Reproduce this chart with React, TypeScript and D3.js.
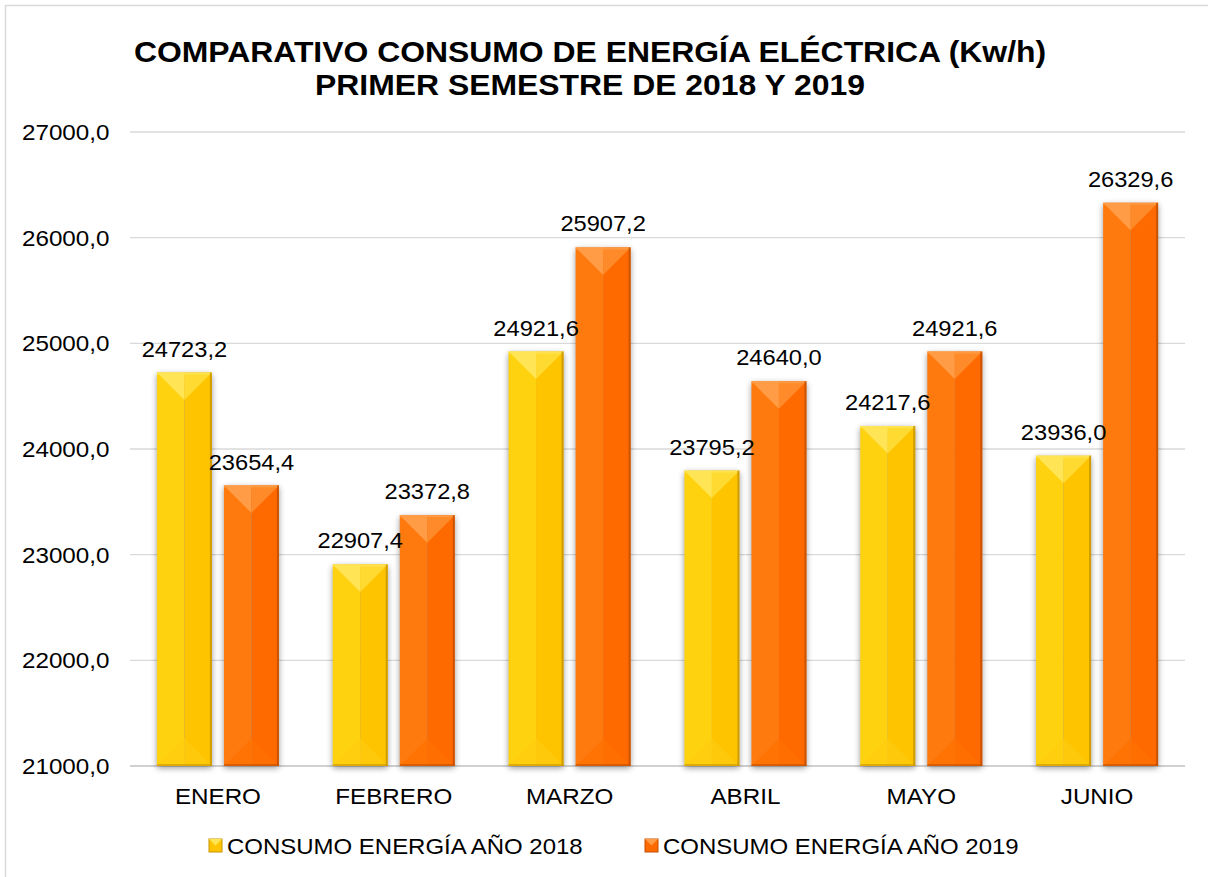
import React from "react";
import * as d3 from "d3";

const categories = ["ENERO", "FEBRERO", "MARZO", "ABRIL", "MAYO", "JUNIO"];
const series2018 = [24723.2, 22907.4, 24921.6, 23795.2, 24217.6, 23936.0];
const series2019 = [23654.4, 23372.8, 25907.2, 24640.0, 24921.6, 26329.6];
const seriesNames = ["CONSUMO ENERGÍA AÑO 2018", "CONSUMO ENERGÍA AÑO 2019"];
const yTicks = [21000, 22000, 23000, 24000, 25000, 26000, 27000];
const titleLines = [
  "COMPARATIVO CONSUMO DE ENERGÍA ELÉCTRICA (Kw/h)",
  "PRIMER SEMESTRE DE 2018 Y 2019",
];

const W = 1208;
const H = 877;
const FONT = "'Liberation Sans', Arial, sans-serif";
const SX = 1.1;

const palettes = [
  { left: "#FFD20F", right: "#FFC400", top: "#FFE455", topR: "#FFDA30", bottom: "#FFCC10", edge: "#C69400" },
  { left: "#FF7A0E", right: "#FF6A00", top: "#FF9C45", topR: "#FF8A2A", bottom: "#FF7000", edge: "#C04E00" },
];

const fmt = (v: number) => v.toFixed(1).replace(".", ",");

function Txt({ x, y, children, anchor = "middle", size = 21.5, weight = "normal" }: any) {
  return (
    <g transform={`translate(${x},${y}) scale(${SX},1)`}>
      <text x={0} y={0} textAnchor={anchor} fontSize={size} fontWeight={weight} fontFamily={FONT} fill="#000">
        {children}
      </text>
    </g>
  );
}

function Bar({ x, y, w, h, p }: any) {
  const xc = x + w / 2;
  const bev = Math.min(w / 2, h / 2);
  const yb = y + h;
  return (
    <g>
      <rect x={x} y={y} width={w} height={h} fill="#000" opacity={0.4} filter="url(#shadow)" />
      <rect x={x} y={y} width={w / 2} height={h} fill={p.left} />
      <rect x={xc} y={y} width={w / 2} height={h} fill={p.right} />
      <path d={`M${x},${y} L${xc},${y + bev} L${xc},${y} Z`} fill={p.top} />
      <path d={`M${xc},${y} L${xc},${y + bev} L${x + w},${y} Z`} fill={p.topR} />
      <path d={`M${x},${yb} L${xc},${yb - bev} L${x + w},${yb} Z`} fill={p.bottom} opacity={0.7} />
      <rect x={x} y={y} width={w} height={2} fill={p.top} opacity={0.8} />
      <rect x={x + w - 2} y={y} width={2} height={h} fill={p.edge} opacity={0.8} />
      <rect x={x} y={yb - 2} width={w} height={2} fill={p.edge} opacity={0.6} />
    </g>
  );
}

export default function App() {
  const y = d3.scaleLinear().domain([21000, 27000]).range([766, 132]);
  const x0 = d3.scaleBand<string>().domain(categories).range([130, 1185]).paddingInner(0).paddingOuter(0);
  const data = [series2018, series2019];

  return (
    <svg width={W} height={H} style={{ position: "absolute", left: 0, top: 0, background: "#fff" }}>
      <defs>
        <filter id="shadow" x="-30%" y="-10%" width="160%" height="120%">
          <feGaussianBlur stdDeviation="3" />
          <feOffset dx="0" dy="2" />
        </filter>
      </defs>
      <rect x={0} y={0} width={W} height={H} fill="#fff" />
      <rect x={5.5} y={5.5} width={W + 10} height={H + 10} fill="none" stroke="#d9d9d9" strokeWidth={1.5} />

      {titleLines.map((t, i) => (
        <Txt key={t} x={590} y={62 + i * 33} size={29} weight="bold">
          {t}
        </Txt>
      ))}

      {yTicks.map((t) => (
        <g key={t}>
          <line x1={130} x2={1185} y1={y(t)} y2={y(t)} stroke={t === 21000 ? "#d0d0d0" : "#d9d9d9"} strokeWidth={t === 21000 ? 2 : 1.3} />
          <Txt x={22} y={y(t) + 8} anchor="start" size={22}>
            {fmt(t)}
          </Txt>
        </g>
      ))}

      {categories.map((c, ci) => {
        const cx = (x0(c) as number) + x0.bandwidth() / 2;
        const x1 = d3.scaleBand<number>().domain([0, 1]).range([cx - 61, cx + 61]).paddingInner(0.18);
        return (
          <g key={c}>
            {data.map((s, si) => {
              const bx = x1(si) as number;
              const bw = x1.bandwidth();
              const by = y(s[ci]);
              return <Bar key={si} x={bx} y={by} w={bw} h={y(21000) - by} p={palettes[si]} />;
            })}
            {data.map((s, si) => {
              const bx = (x1(si) as number) + x1.bandwidth() / 2;
              return (
                <Txt key={"l" + si} x={bx} y={y(s[ci]) - 16}>
                  {fmt(s[ci])}
                </Txt>
              );
            })}
            <Txt x={cx} y={804} size={22}>
              {c}
            </Txt>
          </g>
        );
      })}

      {seriesNames.map((n, i) => {
        const lx = [209, 645][i];
        const p = palettes[i];
        return (
          <g key={n}>
            <rect x={lx} y={839} width={13} height={13} fill={p.right} stroke={p.edge} strokeWidth={1} />
            <path d={`M${lx},${839} L${lx + 6.5},${845.5} L${lx + 13},${839} Z`} fill={p.top} />
            <Txt x={lx + 18} y={854} anchor="start" size={21.8}>
              {n}
            </Txt>
          </g>
        );
      })}
    </svg>
  );
}
